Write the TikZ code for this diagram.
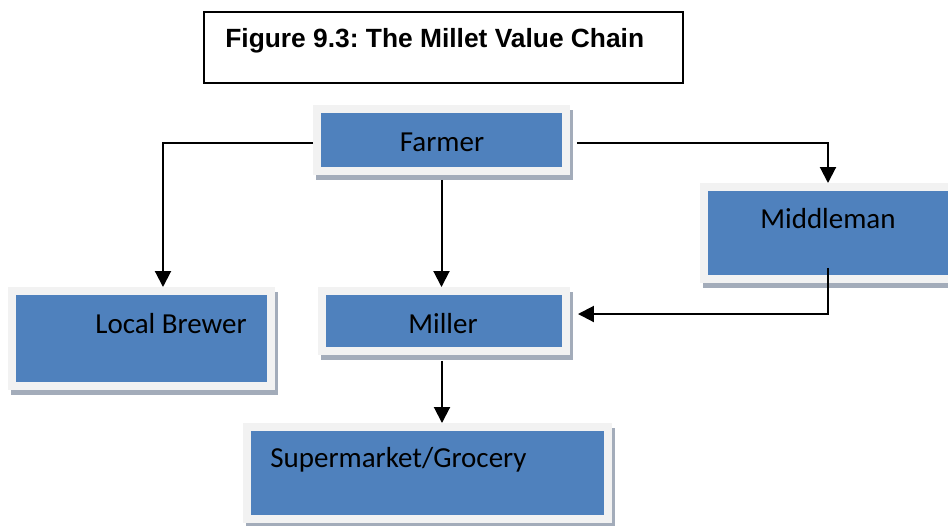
\documentclass[tikz,border=0pt]{standalone}
\usepackage{fontspec}
\setmainfont{Carlito}
\newfontfamily\titlefont{Liberation Sans}
\usetikzlibrary{arrows.meta,shadows}
\definecolor{boxblue}{HTML}{4F81BD}
\definecolor{framegray}{HTML}{F2F2F2}
\definecolor{shadowgray}{HTML}{A3ACBA}
\frenchspacing
\begin{document}
\begin{tikzpicture}[x=0.02cm,y=-0.02cm,
  box/.style={draw=none, fill=framegray, inner sep=0pt, outer sep=0pt,
    general shadow={fill=shadowgray, shadow xshift=0.06cm, shadow yshift=-0.1cm},
    path picture={\fill[boxblue] ([shift={(0.16cm,0.16cm)}]path picture bounding box.south west) rectangle ([shift={(-0.16cm,-0.16cm)}]path picture bounding box.north east);}},
  lbl/.style={inner sep=0pt, font=\fontsize{16.5}{18}\selectfont, text=black},
  conn/.style={line width=0.04cm, -{Triangle[length=0.32cm,width=0.32cm]}},
  titlebox/.style={draw=black, line width=0.04cm, fill=white, inner sep=0pt, minimum width=9.58cm, minimum height=1.42cm}
]
\useasboundingbox (0,0) rectangle (948,525);
\clip (0,0) rectangle (948,525);
\fill[white] (0,0) rectangle (948,525);

% title
\node[titlebox] (title) at (443.5,47.5) {};
\node[inner sep=0pt, anchor=base west, font=\titlefont\bfseries\fontsize{15}{17}\selectfont] (titletext) at (225,47) {Figure 9.3: The Millet Value Chain};

% boxes
\node[box, minimum width=5.14cm, minimum height=1.4cm] (farmer) at (441.5,140) {};
\node[box, minimum width=5.04cm, minimum height=1.36cm] (miller) at (444,321) {};
\node[box, minimum width=5.34cm, minimum height=2.06cm] (brewer) at (141.5,338.5) {};
\node[box, minimum width=5.2cm, minimum height=2cm] (middle) at (830,233) {};
\node[box, minimum width=7.38cm, minimum height=2cm] (super) at (427.5,473) {};

% labels
\node[lbl, anchor=base] (farmerT) at (442,151) {Farmer};
\node[lbl, anchor=base] (millerT) at (443,333) {Miller};
\node[lbl, anchor=base west] (brewerT) at (95,333) {Local Brewer};
\node[lbl, anchor=base] (middleT) at (828,228) {Middleman};
\node[lbl, anchor=base west] (superT) at (270,467) {Supermarket/Grocery};

% connectors
\draw[conn] ([yshift=-0.06cm]farmer.west) -| ([xshift=0.43cm]brewer.north);
\draw[conn] ([xshift=0.14cm,yshift=-0.06cm]farmer.east) -| ([xshift=-0.04cm]middle.north);
\draw[conn] ([yshift=-0.1cm]farmer.south) -- (farmer.south |- miller.north);
\draw[conn] ([xshift=-0.04cm,yshift=0.3cm]middle.south) |- ([xshift=0.16cm,yshift=0.14cm]miller.east);
\draw[conn] ([yshift=-0.12cm,xshift=-0.04cm]miller.south) -- ([xshift=-0.04cm]miller.south |- super.north);
\end{tikzpicture}
\end{document}
